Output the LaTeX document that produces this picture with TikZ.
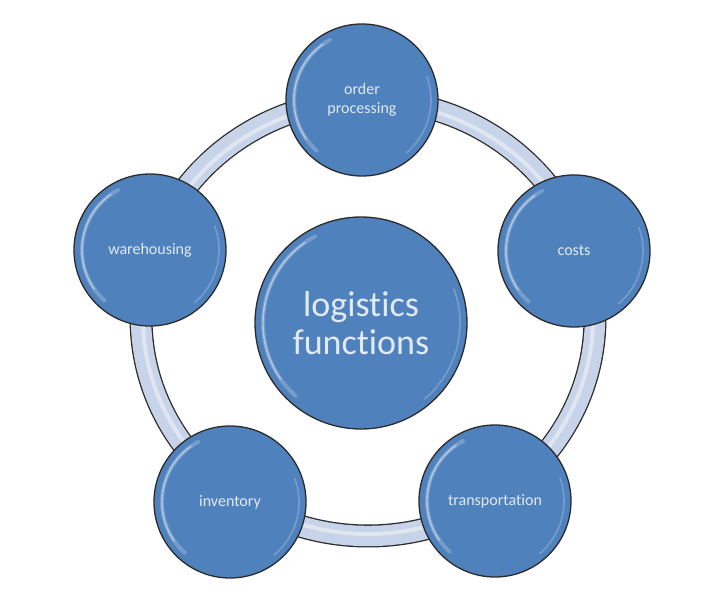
\documentclass[tikz,border=0pt]{standalone}
\usepackage{fontspec}
\setmainfont[Ligatures={NoCommon}]{Carlito}
\definecolor{bubblue}{HTML}{4F81BD}
\definecolor{labtext}{HTML}{E2EAF5}
\definecolor{ringfill}{HTML}{C6D3E8}
\definecolor{ringedge}{HTML}{2B2B2B}
\begin{document}
\begin{tikzpicture}[x=1pt,y=1pt,
  bub/.style={circle, draw=ringedge, line width=1.3pt, fill=bubblue, text=labtext,
    inner sep=0pt, align=center, minimum size=152pt, font=\fontsize{16}{19}\selectfont},
  bigbub/.style={bub, minimum size=212pt, font=\fontsize{36}{38}\selectfont},
  shine/.style={white, opacity=0.22, line width=4pt, line cap=round},
  shinecore/.style={white, opacity=0.45, line width=1.4pt, line cap=round},
  softshine/.style={white, opacity=0.22, line width=1.6pt, line cap=round}]
\useasboundingbox (0,0) rectangle (720,594);
\fill[white] (0,0) rectangle (720,594);
% ring band
\coordinate (ringc) at (368,276);
\draw[draw=ringedge, line width=23pt] (ringc) ellipse [x radius=227, y radius=218];
\draw[draw=ringfill, line width=20.4pt] (ringc) ellipse [x radius=227, y radius=218];
\draw[draw=white, opacity=0.45, line width=4pt] (ringc) ellipse [x radius=225, y radius=216];
% nodes
\node[bub] (ord) at (362,494) {order\\processing};
\node[bub] (cost) at (574,343) {costs};
\node[bub] (trans) at (495,93) {transportation};
\node[bub] (inv) at (230,92) {inventory};
\node[bub] (ware) at (150,344) {warehousing};
\node[bigbub] (log) at (361,271) {logistics\\functions};
% highlights
\foreach \n in {ord,cost,trans,inv,ware}{
  \draw[shine] (\n.center) ++(118:68pt) arc[start angle=118, end angle=228, radius=68pt];
  \draw[shinecore] (\n.center) ++(125:68pt) arc[start angle=125, end angle=215, radius=68pt];
  \draw[softshine] (\n.center) ++(-50:69pt) arc[start angle=-50, end angle=20, radius=69pt];
}
\draw[shine] (log.center) ++(118:98pt) arc[start angle=118, end angle=228, radius=98pt];
\draw[shinecore] (log.center) ++(125:98pt) arc[start angle=125, end angle=215, radius=98pt];
\draw[softshine] (log.center) ++(-50:99pt) arc[start angle=-50, end angle=20, radius=99pt];
\end{tikzpicture}
\end{document}
